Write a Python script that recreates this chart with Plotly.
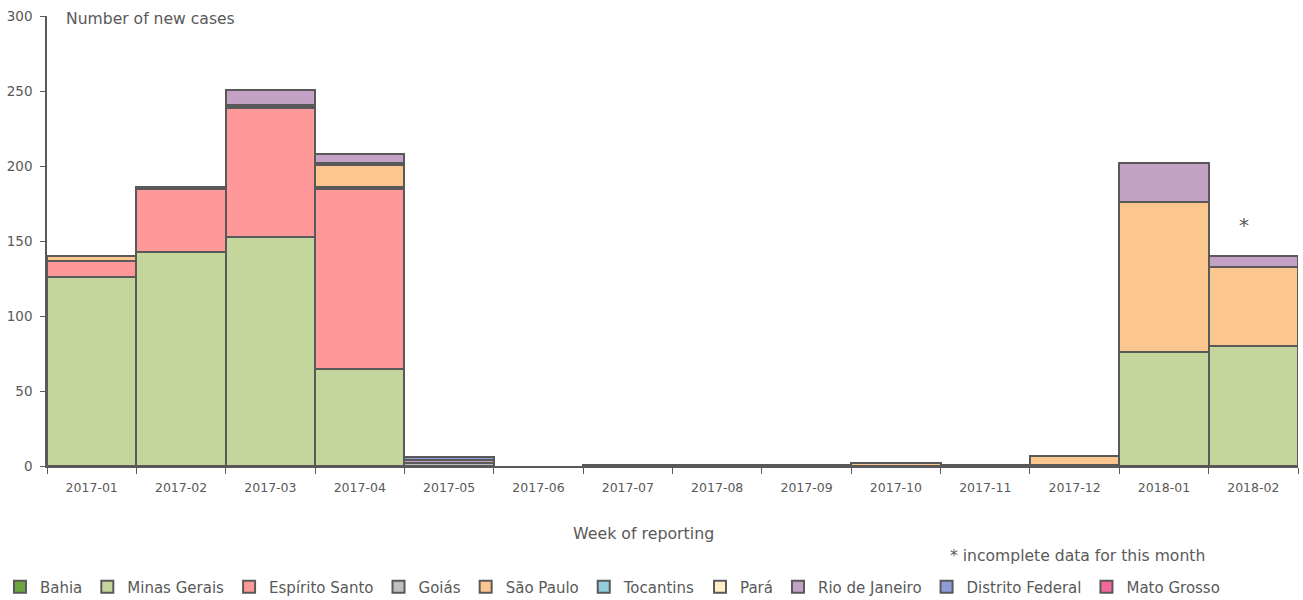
import plotly.graph_objects as go

months = ["2017-01", "2017-02", "2017-03", "2017-04", "2017-05", "2017-06", "2017-07",
          "2017-08", "2017-09", "2017-10", "2017-11", "2017-12", "2018-01", "2018-02"]

bahia = [0, 0, 0, 0, 0, 0, 0, 0, 0, 0, 0, 0, 0, 0]
minas_gerais = [126, 143, 153, 65, 0, 0, 1, 1, 1, 0, 1, 1, 76, 80]
espirito_santo = [11, 42, 86, 120, 0, 0, 0, 0, 0, 0, 0, 0, 0, 0]
goias = [0, 1, 1, 1, 2, 0, 0, 0, 0, 0, 0, 0, 0, 0]
sao_paulo = [3, 0, 0, 15, 0, 0, 0, 0, 0, 2, 0, 6, 100, 53]
tocantins = [0, 0, 0, 0, 0, 0, 0, 0, 0, 0, 0, 0, 0, 0]
para = [0, 0, 1, 1, 0, 0, 0, 0, 0, 0, 0, 0, 0, 0]
rio_de_janeiro = [0, 0, 10, 6, 2, 0, 0, 0, 0, 0, 0, 0, 26, 7]
distrito_federal = [0, 0, 0, 0, 2, 0, 0, 0, 0, 0, 0, 0, 0, 0]
mato_grosso = [0, 0, 0, 0, 0, 0, 0, 0, 0, 0, 0, 0, 0, 0]

series = [
    ("Bahia", bahia, "#6aa83e"),
    ("Minas Gerais", minas_gerais, "#c4d69c"),
    ("Espírito Santo", espirito_santo, "#ff9999"),
    ("Goiás", goias, "#bfbfbf"),
    ("São Paulo", sao_paulo, "#fbc78f"),
    ("Tocantins", tocantins, "#92cddc"),
    ("Pará", para, "#fdf0c6"),
    ("Rio de Janeiro", rio_de_janeiro, "#c4a2c6"),
    ("Distrito Federal", distrito_federal, "#8e9dd9"),
    ("Mato Grosso", mato_grosso, "#f4679b"),
]

grey = "#595959"
font = "DejaVu Sans"

fig = go.Figure()
for name, vals, col in series:
    fig.add_trace(go.Bar(
        x=months, y=[v if v else None for v in vals], name=name,
        marker=dict(color=col, line=dict(color=grey, width=2)),
    ))

fig.update_layout(
    width=1303, height=600,
    barmode="stack", bargap=0,
    plot_bgcolor="white", paper_bgcolor="white",
    margin=dict(l=47, r=5, t=16, b=134, autoexpand=False),
    font=dict(family=font, size=14, color=grey),
    showlegend=True,
    legend=dict(orientation="h", x=0.452, xanchor="center", y=-0.269, yanchor="middle",
                font=dict(size=15, color=grey), traceorder="normal", itemwidth=30),
    xaxis=dict(type="category", showline=True, linecolor=grey, linewidth=1.5,
               ticks="outside", tickson="boundaries", ticklen=6, tickcolor=grey,
               tickfont=dict(size=12.5, color=grey), showgrid=False, automargin=False,
               ticklabelstandoff=9),
    yaxis=dict(range=[0, 300], dtick=50, showline=True, linecolor=grey, linewidth=1.5,
               ticks="outside", ticklen=5, tickcolor=grey, showgrid=False, zeroline=False,
               tickfont=dict(size=13.5, color=grey), automargin=False, ticklabelstandoff=5),
    annotations=[
        dict(text="Number of new cases", xref="paper", yref="paper", x=0.0136, y=0.993,
             xanchor="left", yanchor="middle", showarrow=False, font=dict(size=15.6, color=grey)),
        dict(text="Week of reporting", xref="paper", yref="paper", x=0.477, y=-0.151,
             xanchor="center", yanchor="middle", showarrow=False, font=dict(size=15.8, color=grey)),
        dict(text="* incomplete data for this month", xref="paper", yref="paper", x=0.824, y=-0.2,
             xanchor="center", yanchor="middle", showarrow=False, font=dict(size=15.6, color=grey)),
        dict(text="*", xref="x", yref="y", x="2018-02", y=161, xanchor="center", yanchor="middle",
             xshift=-9, showarrow=False, font=dict(size=20, color=grey)),
    ],
)

fig.write_html("out.html", config={"displayModeBar": False},
               post_script="document.body.style.margin='0';")
